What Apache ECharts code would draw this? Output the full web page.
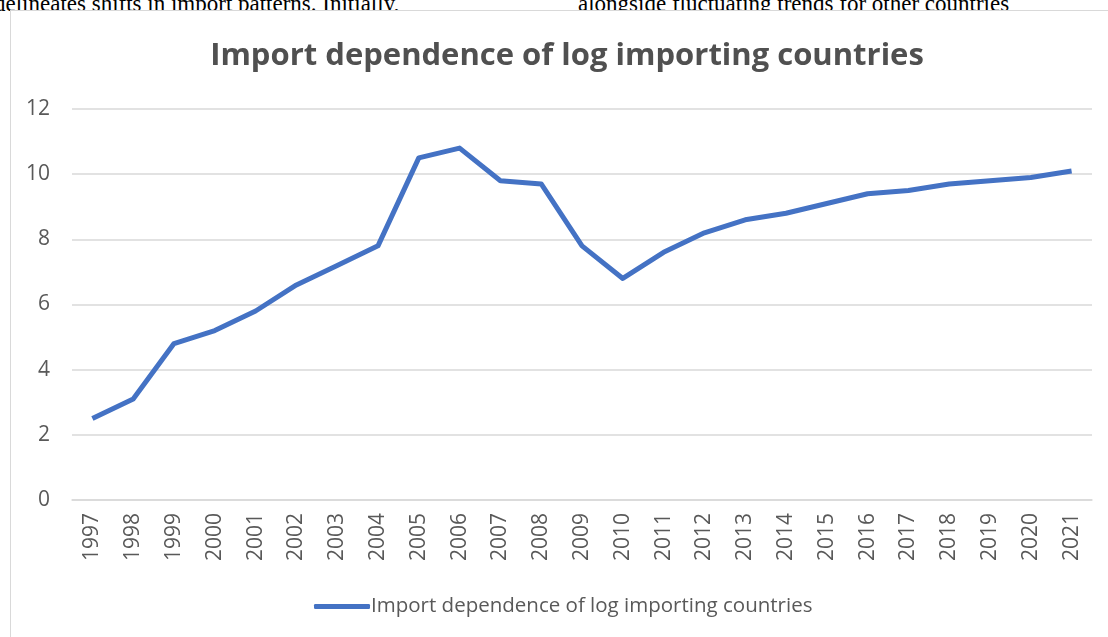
<!DOCTYPE html>
<html>
  <head>
    <meta charset="UTF-8" />
    <title>Import dependence</title>
    <style>
      html,
      body {
        margin: 0;
        padding: 0;
        width: 100%;
        height: 100%;
        overflow: hidden;
        background: #fff;
      }
      .doc-text {
        position: absolute;
        top: -9px;
        font-family: "Liberation Serif", "DejaVu Serif", serif;
        font-size: 23px;
        color: #000;
        white-space: nowrap;
      }
      .frame {
        position: absolute;
        left: 10px;
        top: 10px;
        width: 1120px;
        height: 660px;
        border: 1px solid #d9d9d9;
        box-sizing: border-box;
        background: #fff;
      }
      #main {
        position: absolute;
        left: 0;
        top: 0;
        width: 1108px;
        height: 637px;
      }
    </style>
    <script src="https://cdn.jsdelivr.net/npm/echarts@6/dist/echarts.min.js"></script>
  </head>
  <body>
    <div class="doc-text" style="left: -6px">delineates shifts in import patterns. Initially,</div>
    <div class="doc-text" style="left: 578px">alongside fluctuating trends for other countries</div>
    <div class="frame"></div>
    <div id="main"></div>

    <script>
      var years = [
        "1997", "1998", "1999", "2000", "2001", "2002", "2003", "2004", "2005",
        "2006", "2007", "2008", "2009", "2010", "2011", "2012", "2013", "2014",
        "2015", "2016", "2017", "2018", "2019", "2020", "2021",
      ];
      var importDependence = [
        2.5, 3.1, 4.8, 5.2, 5.8, 6.6, 7.2, 7.8, 10.5, 10.8, 9.8, 9.7, 7.8, 6.8,
        7.6, 8.2, 8.6, 8.8, 9.1, 9.4, 9.5, 9.7, 9.8, 9.9, 10.1,
      ];
      var seriesName = "Import dependence of log importing countries";

      var myChart = echarts.init(document.getElementById("main"));
      var textColor = "#595959";

      var option = {
        animation: false,
        title: {
          text: "Import dependence of log importing countries",
          left: 562,
          textAlign: "center",
          top: 36,
          textStyle: {
            color: "#505050",
            fontFamily: "Open Sans",
            fontWeight: "bold",
            fontSize: 31,
          },
        },
        legend: {
          bottom: 20,
          left: 314,
          padding: 0,
          itemWidth: 56,
          itemHeight: 5,
          itemGap: 0,
          icon: "roundRect",
          textStyle: {
            color: textColor,
            fontFamily: "Open Sans",
            fontSize: 20.5,
            padding: [0, 0, 0, -4],
          },
          data: [seriesName],
        },
        grid: {
          left: 72,
          right: 16,
          top: 109,
          bottom: 137,
        },
        xAxis: {
          type: "category",
          data: years,
          boundaryGap: true,
          axisLine: { lineStyle: { color: "#d9d9d9", width: 1.5 } },
          axisTick: { show: false },
          axisLabel: {
            rotate: 90,
            color: textColor,
            fontFamily: "Open Sans",
            fontSize: 21,
            margin: 13,
          },
        },
        yAxis: {
          type: "value",
          min: 0,
          max: 12,
          interval: 2,
          axisLine: { show: false },
          axisTick: { show: false },
          axisLabel: {
            color: textColor,
            fontFamily: "Open Sans",
            fontSize: 21,
            margin: 22,
          },
          splitLine: { lineStyle: { color: "#d9d9d9", width: 1.5 } },
        },
        series: [
          {
            name: seriesName,
            type: "line",
            data: importDependence,
            symbol: "none",
            lineStyle: { color: "#4472c4", width: 5, join: "round" },
            itemStyle: { color: "#4472c4" },
          },
        ],
      };

      myChart.setOption(option);
    </script>
  </body>
</html>
